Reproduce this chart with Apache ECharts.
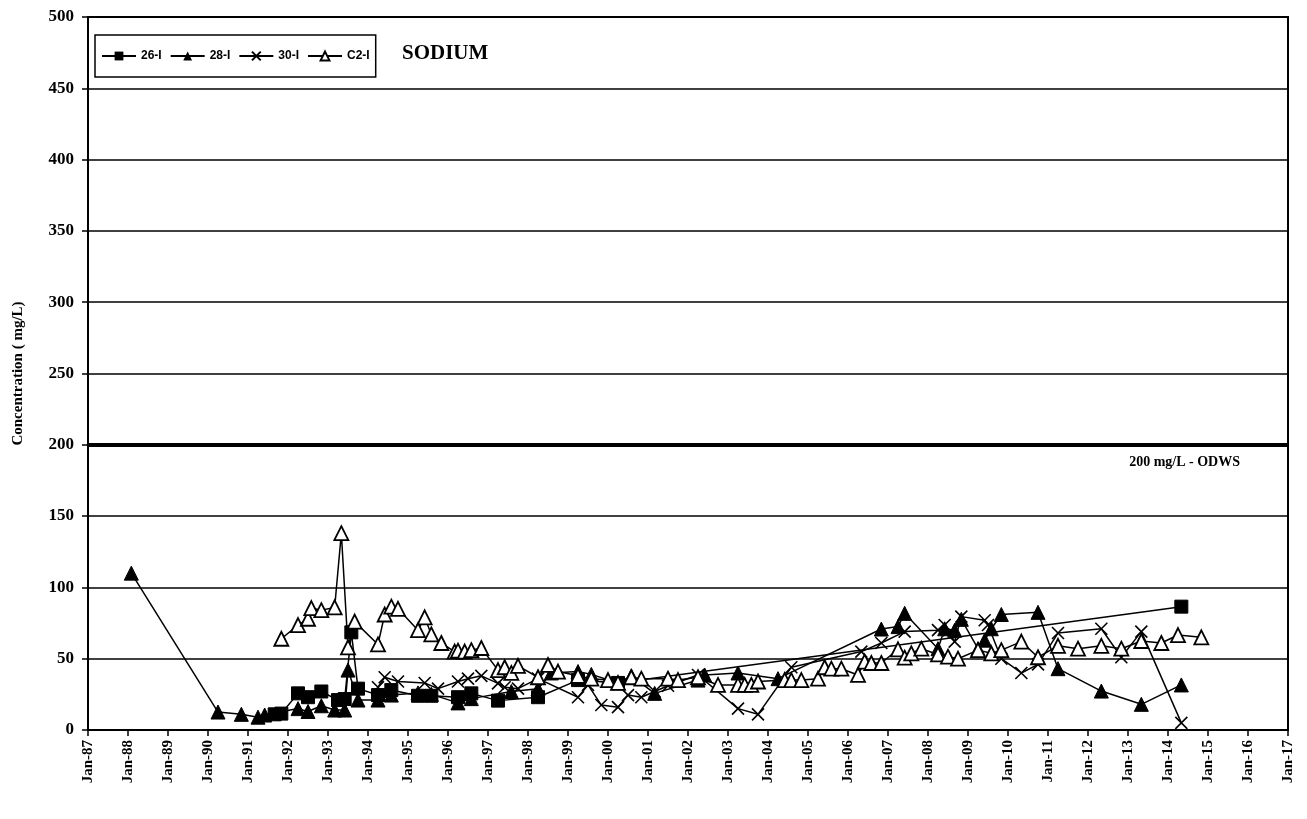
<!DOCTYPE html>
<html><head><meta charset="utf-8">
<script src="https://cdn.jsdelivr.net/npm/echarts@6/dist/echarts.min.js"></script>
<style>html,body{margin:0;padding:0;background:#fff}#c{width:1307px;height:819px}</style>
</head><body><div id="c"></div>
<script>
// ---- data (date as YYYY-MM, value in mg/L) ----
const seriesNames = ['26-I', '28-I', '30-I', 'C2-I'];

const dates26 = ['1991-09','1991-11','1992-04','1992-07','1992-11','1993-04','1993-06','1993-08','1993-10','1994-04','1994-08','1995-04','1995-08','1996-04','1996-08','1997-04','1998-04','1999-04','2000-04','2014-05'];
const values26 = [11,11.5,25.7,23,27,21,21.7,68.5,29,24.5,28,24,24,23,25.7,20.6,23,35,33,86.5];

const dates28 = ['1988-02','1990-04','1990-11','1991-04','1991-06','1992-04','1992-07','1992-11','1993-03','1993-06','1993-07','1993-10','1994-04','1994-08','1995-04','1995-08','1996-04','1996-08','1997-08','1998-04','1998-08','1999-04','1999-08','2000-04','2000-08','2001-03','2002-04','2002-06','2003-04','2004-04','2006-11','2007-04','2007-06','2008-04','2008-06','2008-09','2008-11','2009-04','2009-06','2009-08','2009-11','2010-10','2011-04','2012-05','2013-05','2014-05'];
const values28 = [110,12.6,11,9,10.5,15,13,17,14,14,42,21,21,24.5,26,25,19,22,27,29,40,41,39,33,38,25.7,35,38.6,40,36,70.8,72.5,81.8,57,71,70,77.6,57,63,71,81,82.5,43,27.3,18,31.6];

const dates30 = ['1994-04','1994-06','1994-10','1995-06','1995-10','1996-04','1996-07','1996-11','1997-04','1997-06','1997-10','1998-04','1999-04','1999-07','1999-11','2000-04','2000-07','2000-11','2001-03','2001-07','2002-04','2003-04','2003-10','2004-08','2006-05','2006-11','2007-06','2008-04','2008-06','2008-09','2008-11','2009-06','2009-07','2009-11','2010-05','2010-10','2011-04','2012-05','2012-11','2013-05','2014-05'];
const values30 = [30,37,34,33,29,34,36,38,32.7,30,29,36,23,31.6,17.5,16,24.5,23,27,31,38.6,15,11,44,55,61,69,70,73.6,62,79.5,77,73.6,50,40,46,68,71,51,69,5];

const datesC2 = ['1991-11','1992-04','1992-07','1992-08','1992-11','1993-03','1993-05','1993-07','1993-09','1994-04','1994-06','1994-08','1994-10','1995-04','1995-06','1995-08','1995-11','1996-03','1996-04','1996-06','1996-08','1996-11','1997-04','1997-06','1997-08','1997-10','1998-04','1998-07','1998-10','1999-04','1999-08','2000-01','2000-04','2000-08','2000-11','2001-07','2001-10','2002-04','2002-10','2003-04','2003-06','2003-08','2003-10','2004-06','2004-08','2004-11','2005-04','2005-06','2005-08','2005-11','2006-04','2006-06','2006-08','2006-11','2007-04','2007-06','2007-08','2007-11','2008-04','2008-07','2008-10','2009-04','2009-08','2009-11','2010-05','2010-10','2011-04','2011-10','2012-05','2012-11','2013-05','2013-11','2014-04','2014-11'];
const valuesC2 = [64,73.6,78,85.5,84,86,138,58,76,60,81,86.5,85,70,79,67,61,55,55.6,55,56,57.5,42,44,40,45,37,45.6,41,38,36,35,33,37,36,36,35,37,31.6,31.6,31.6,31.6,34,35,35,35,36,44,43,43,38.6,48,47,47,56.6,50.7,53.8,57,53,51.4,50,56,53.8,56,62,51,59,57,59,57,62.4,61,66.6,65];

const xStartYear = 1987, xEndYear = 2017;
const yMin = 0, yMax = 500, yStep = 50;
const odwsValue = 200;
const odwsLabel = '200 mg/L - ODWS';
const chartTitle = 'SODIUM';
const yAxisTitle = 'Concentration ( mg/L)';

// ---- build ----
function toYear(s) { const p = s.split('-').map(Number); return p[0] + (p[1] - 1) / 12; }
function pairs(d, v) { return d.map((s, i) => [toYear(s), v[i]]); }

const serif = 'Liberation Serif';
const xPath = 'path://M0,0L20,20M20,0L0,20';

const baseLine = { color: '#000', width: 1.5 };
function mk(name, data, symbol, size, itemStyle) {
  return {
    name, type: 'line', data, symbol, symbolSize: size, symbolKeepAspect: true,
    lineStyle: baseLine, itemStyle, animation: false, showAllSymbol: true
  };
}

const series = [
  mk(seriesNames[0], pairs(dates26, values26), 'rect', 13, { color: '#000', borderColor: '#000' }),
  mk(seriesNames[1], pairs(dates28, values28), 'triangle', 14, { color: '#000', borderColor: '#000' }),
  mk(seriesNames[2], pairs(dates30, values30), xPath, 12, { color: '#000', borderColor: '#000', borderWidth: 1.6 }),
  mk(seriesNames[3], pairs(datesC2, valuesC2), 'triangle', 14, { color: '#fff', borderColor: '#000', borderWidth: 1.8 })
];
series[0].markLine = {
  silent: true, symbol: 'none', animation: false,
  lineStyle: { color: '#000', width: 4, type: 'solid' },
  label: { show: false },
  data: [{ yAxis: odwsValue }]
};

const chart = echarts.init(document.getElementById('c'), null, { renderer: 'canvas' });
chart.setOption({
  backgroundColor: '#fff',
  animation: false,
  title: {
    text: chartTitle, left: 397, top: 38,
    textStyle: { fontFamily: serif, fontWeight: 'bold', fontSize: 21, color: '#000' }
  },
  legend: {
    left: 95, top: 35, orient: 'horizontal',
    data: seriesNames,
    itemWidth: 34, itemHeight: 11, itemGap: 8,
    padding: [15, 6, 15, 6],
    borderColor: '#000', borderWidth: 1.5,
    textStyle: { fontFamily: 'Liberation Sans', fontWeight: 'bold', fontSize: 12, color: '#000' }
  },
  grid: {
    left: 88, right: 19, top: 17, bottom: 89,
    show: true, borderColor: '#000', borderWidth: 2, backgroundColor: 'transparent'
  },
  xAxis: {
    type: 'value', min: xStartYear, max: xEndYear, interval: 1,
    axisLine: { lineStyle: { color: '#000', width: 2 } },
    axisTick: { show: true, inside: false, length: 6, lineStyle: { color: '#000', width: 1.5 } },
    splitLine: { show: false },
    axisLabel: {
      rotate: 90, margin: 10, color: '#000',
      fontFamily: serif, fontWeight: 'bold', fontSize: 15,
      formatter: v => 'Jan-' + String(Math.round(v) % 100).padStart(2, '0')
    }
  },
  yAxis: {
    type: 'value', min: yMin, max: yMax, interval: yStep,
    name: yAxisTitle, nameLocation: 'middle', nameGap: 62, nameRotate: 90,
    nameTextStyle: { fontFamily: serif, fontWeight: 'bold', fontSize: 15, color: '#000' },
    axisLine: { show: true, lineStyle: { color: '#000', width: 2 } },
    axisTick: { show: true, inside: false, length: 6, lineStyle: { color: '#000', width: 1.5 } },
    splitLine: { show: true, lineStyle: { color: '#000', width: 1.5 } },
    axisLabel: { margin: 14, color: '#000', fontFamily: serif, fontWeight: 'bold', fontSize: 17 }
  },
  graphic: [{
    type: 'text', right: 67, top: 455,
    style: { text: odwsLabel, fill: '#000', font: 'bold 14px "Liberation Serif"' }
  }],
  series
});
</script>
</body></html>
